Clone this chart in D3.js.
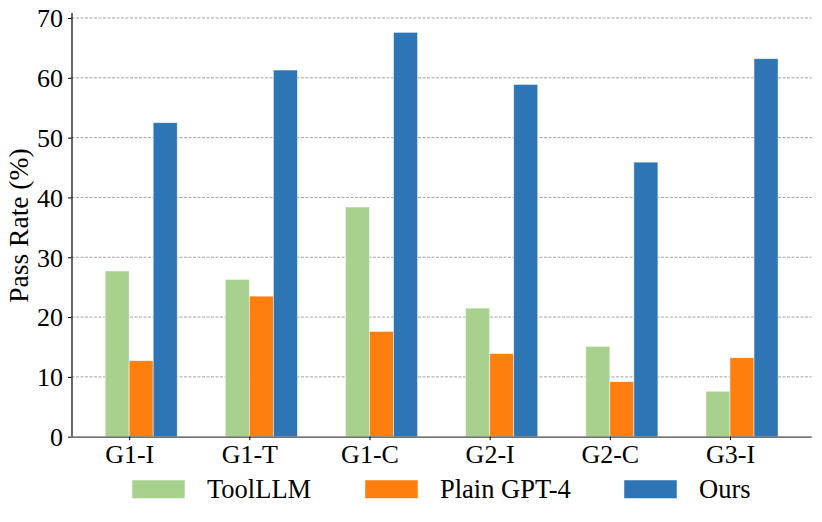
<!DOCTYPE html>
<html>
<head>
<meta charset="utf-8">
<script src="https://cdn.jsdelivr.net/npm/d3@7"></script>
<style>
  body { margin: 0; background: #fff; }
  text { font-family: "Liberation Serif", "Times New Roman", serif; fill: #000; }
</style>
</head>
<body>
<script>
// data
const categories = ["G1-I", "G1-T", "G1-C", "G2-I", "G2-C", "G3-I"];
const seriesNames = ["ToolLLM", "Plain GPT-4", "Ours"];
const toolllm = [27.7, 26.3, 38.4, 21.5, 15.1, 7.6];
const plainGpt4 = [12.7, 23.5, 17.6, 13.9, 9.2, 13.2];
const ours = [52.5, 61.3, 67.6, 58.9, 45.9, 63.2];
const yTicks = [0, 10, 20, 30, 40, 50, 60, 70];
const colors = ["#a9d18e", "#ff7f0e", "#2e75b6"];

const series = [toolllm, plainGpt4, ours];
const W = 822, H = 522;
const barW = 0.2;

const svg = d3.select("body").append("svg")
    .attr("width", W)
    .attr("height", H);

// x in "category units" like matplotlib; bars span [i-0.2, i+0.4], 5% margin
const x = d3.scaleLinear()
    .domain([-0.48, categories.length - 1 + 0.68])
    .range([71.5, 811.7]);
const y = d3.scaleLinear()
    .domain([0, 70])
    .range([436.7, 18]);

// grid
svg.append("g")
    .selectAll("line")
    .data(yTicks.filter(d => d > 0))
  .enter().append("line")
    .attr("x1", x.range()[0])
    .attr("x2", x.range()[1])
    .attr("y1", d => y(d))
    .attr("y2", d => y(d))
    .attr("stroke", "#999")
    .attr("stroke-width", 0.9)
    .attr("stroke-dasharray", "3,1.5");

// bars
series.forEach(function(vals, s) {
    svg.append("g")
        .selectAll("rect")
        .data(vals)
      .enter().append("rect")
        .attr("x", (d, i) => x(i + (s - 1) * barW))
        .attr("width", x(barW) - x(0))
        .attr("y", d => y(d))
        .attr("height", d => y(0) - y(d))
        .attr("fill", colors[s])
        .attr("stroke", "#fff")
        .attr("stroke-opacity", 0.6)
        .attr("stroke-width", 0.8);
});

// y axis
const yAxis = svg.append("g")
    .attr("transform", "translate(" + x.range()[0] + ",0)")
    .call(d3.axisLeft(y).tickValues(yTicks).tickSize(3.5).tickPadding(5).tickFormat(d3.format("d")));
yAxis.select(".domain").attr("d", "M0.5,13V" + y(0)).attr("stroke", "#000").attr("stroke-width", 1.2);
yAxis.selectAll("text").style("font-size", "26px").attr("dy", "0.34em");

// x axis
const xAxis = svg.append("g")
    .attr("transform", "translate(0," + y(0) + ")")
    .call(d3.axisBottom(x).tickValues(d3.range(categories.length)).tickSize(3.5).tickPadding(3)
        .tickFormat(i => categories[i]));
xAxis.select(".domain").attr("d", "M" + x.range()[0] + ",0.5H" + x.range()[1]).attr("stroke", "#444").attr("stroke-width", 1.2);
xAxis.selectAll("text").style("font-size", "26px").attr("dy", "0.76em");

// y label
svg.append("text")
    .attr("transform", "translate(28," + y(35.3) + ")rotate(-90)")
    .attr("text-anchor", "middle")
    .style("font-size", "27.5px")
    .text("Pass Rate (%)");

// legend
const legendX = [132, 365, 624];
const legend = svg.append("g")
    .selectAll("g")
    .data(seriesNames)
  .enter().append("g")
    .attr("transform", (d, i) => "translate(" + legendX[i] + ",480)");
legend.append("rect")
    .attr("width", 53)
    .attr("height", 18.5)
    .attr("fill", (d, i) => colors[i])
    .attr("stroke", "#fff")
    .attr("stroke-opacity", 0.6)
    .attr("stroke-width", 0.8);
legend.append("text")
    .attr("x", 75)
    .attr("y", 18)
    .style("font-size", "26.5px")
    .text(d => d);
</script>
</body>
</html>
